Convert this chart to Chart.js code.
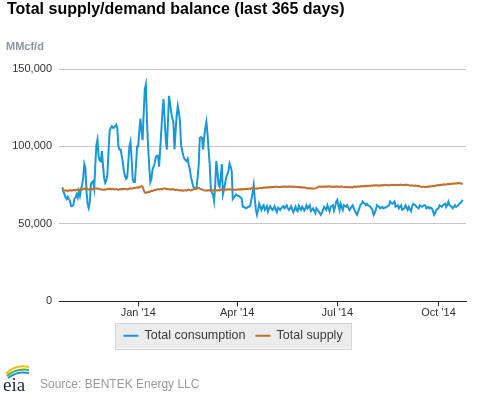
<!DOCTYPE html>
<html>
<head>
<meta charset="utf-8">
<script src="https://cdn.jsdelivr.net/npm/chart.js@4.4.1/dist/chart.umd.min.js"></script>
<style>
  html, body { margin: 0; padding: 0; background: #fff; }
  body { width: 477px; height: 393px; position: relative; overflow: hidden; font-family: Arial, "Liberation Sans", sans-serif; }
  #title { position: absolute; left: 7px; top: 0; font-size: 16px; line-height: 18px; font-weight: bold; color: #000; white-space: nowrap; }
  #unit { position: absolute; left: 6px; top: 40px; font-size: 11px; line-height: 13px; font-weight: bold; color: #8d959e; }
  #wrap { position: absolute; left: 0; top: 0; width: 477px; height: 393px; }
  #source { position: absolute; left: 40px; top: 377px; font-size: 12px; line-height: 14px; color: #999; white-space: nowrap; }
  #logo { position: absolute; left: 2px; top: 361px; }
</style>
</head>
<body>
<div id="wrap"><canvas id="myChart" width="477" height="393"></canvas></div>
<div id="title">Total supply/demand balance (last 365 days)</div>
<div id="unit">MMcf/d</div>
<svg id="logo" width="32" height="32" viewBox="0 0 32 32">
  <path d="M4 13 Q13 3 27 6" stroke="#e9c21d" stroke-width="2" fill="none"/>
  <path d="M5 15 Q14 7 27 9" stroke="#59ad3b" stroke-width="2" fill="none"/>
  <path d="M6 17 Q15 10 27 12" stroke="#1f93cf" stroke-width="2" fill="none"/>
  <text x="1" y="30" font-family="'Liberation Serif', 'DejaVu Serif', serif" font-size="19" fill="#1d2a38">eia</text>
</svg>
<div id="source">Source: BENTEK Energy LLC</div>
<script>
// daily values, thousand MMcf/d, first day = 69 days before Jan 1 '14
var firstDay = -69;
var consumptionK = [
  73.7, 71, 69, 67, 66, 67.5, 66, 64.7, 61.4, 61.5,
  62, 66, 67, 69, 67, 71, 68, 72.4, 75, 79.7,
  88.6, 86, 71, 63, 60.3, 64, 75.6, 77, 77.6, 73,
  88, 101, 104.5, 93.7, 91, 90.5, 97, 88, 79.7, 76.5,
  78, 82, 96, 110, 112, 113, 112, 112, 113, 114,
  112, 100, 98, 98, 94, 90, 84, 81, 79, 80,
  90, 100, 103, 92, 79, 77, 77, 88, 100, 100,
  110, 118, 110, 104, 122, 137, 140, 116, 100, 87.5,
  77, 79, 85, 87, 89, 93, 94, 94, 87, 98,
  110, 122, 130.6, 118, 105, 98, 115, 132.7, 128, 122,
  118, 116, 98, 110, 120, 126, 122, 116, 101, 97,
  94, 92, 91, 90.5, 92, 88, 85, 80, 77, 74,
  73.5, 73, 73, 80, 88, 105.6, 106, 105.6, 98, 106,
  112, 116, 108, 98, 88.6, 73, 70, 69, 64.7, 75,
  90.5, 84, 75.6, 74, 80, 88.6, 69, 72, 76, 80,
  82, 84, 89, 87, 84, 66, 67, 68, 69, 68.5,
  68, 68, 67, 66.6, 61, 61, 60.5, 60, 60.5, 61,
  61, 62, 66, 70, 75, 66, 59, 55.8, 59, 63,
  61, 59, 61, 62, 59, 60, 61.4, 58, 60, 61.4,
  60, 59, 60, 61.4, 59, 57.5, 60.5, 60, 59, 60,
  61, 61.4, 60, 61, 62, 60, 59, 60, 61.4, 59.5,
  57.5, 59, 61, 59, 58.2, 61.6, 60, 59, 61, 60,
  58.6, 60, 62, 60, 61, 62, 58.2, 59, 60, 58.5,
  57, 60, 59, 58.2, 57, 55.8, 57, 59, 61, 60,
  59, 62, 60, 58.2, 61, 61.5, 62, 58.6, 61, 64.4,
  65.5, 62, 59, 63, 61, 59, 62, 61.5, 61, 62,
  60.5, 59, 60, 61, 62, 60, 58.5, 57, 55.8, 58,
  60, 62, 63, 64.4, 63.5, 63, 62, 63, 62, 61.5,
  61, 60, 59, 55.8, 57, 59, 62, 61.5, 61, 60,
  60.5, 61, 60, 60.5, 60.5, 61, 61.5, 62, 64.4, 63.5,
  63, 63.5, 64.4, 61, 61.5, 62, 60, 61, 62, 59,
  59.5, 60, 62, 60.5, 59, 61, 59.5, 58.2, 61, 63,
  62.5, 62, 61, 60.5, 60, 62, 61.5, 61, 61.5, 62,
  62, 60, 60.5, 61, 60, 60.5, 60, 58.2, 55.8, 57,
  59, 59.5, 60, 62, 61.5, 61, 62, 62.5, 63, 61,
  62.5, 64.4, 62, 61.5, 61, 60, 61, 62, 61, 61.5,
  62, 63, 63.5, 64.4, 65.5
];
var supplyK = [
  72, 71.6, 71.4, 71.8, 71.5, 71.2, 71.6, 71.8, 71.4, 71.6,
  71.8, 72, 71.6, 71.9, 72.2, 71.8, 72, 72.4, 72.1, 72.6,
  72.8, 72.5, 72.9, 72.4, 72.1, 72.3, 72.6, 72.2, 72.5, 72.8,
  72.9, 73, 72.6, 72.8, 72.4, 72.1, 72.3, 71.9, 72.2, 72,
  72.3, 72.6, 72.4, 72.8, 72.5, 72.2, 72.6, 72.4, 72.2, 72.5,
  72.3, 72, 72.3, 72.5, 72.2, 72.6, 72.4, 72.7, 72.4, 72.2,
  72.5, 72.8, 73, 72.7, 72.9, 73.2, 73.1, 73.4, 73.6, 73.3,
  73.8, 74.1, 74.4, 73.9, 72, 70.3, 70, 70.3, 70.6, 70.5,
  71, 71.4, 71.2, 71.6, 72, 71.8, 72.2, 72.5, 72.2, 72.4,
  72.6, 72.3, 72.8, 73, 72.7, 72.4, 72.6, 72.3, 72.1, 72.5,
  72.2, 72.4, 72, 71.8, 72.1, 71.9, 71.6, 71.8, 71.5, 71.7,
  71.4, 71.6, 71.8, 71.5, 71.9, 72.1, 71.8, 71.6, 72, 72.3,
  72.6, 72.4, 72.8, 73, 73.3, 72.8, 72.5, 72.2, 71.9, 71.6,
  71.4, 71.7, 71.5, 71.8, 71.6, 71.4, 71.7, 71.5, 71.8, 72,
  71.7, 71.5, 71.8, 71.6, 71.9, 72.1, 71.8, 72, 72.2, 72,
  72.3, 72.1, 72.4, 72.2, 72, 72.3, 72.1, 71.9, 72.2, 72,
  72.3, 72.1, 72.4, 72.2, 72.5, 72.3, 72.6, 72.4, 72.7, 72.5,
  72.8, 72.6, 73, 73.2, 73.4, 72.9, 72.7, 73, 72.8, 73.1,
  73.3, 73, 73.2, 73.5, 73.3, 73.6, 73.4, 73.7, 73.5, 73.8,
  73.6, 73.9, 73.7, 74, 73.8, 74.1, 73.9, 73.7, 74, 73.8,
  74.1, 73.9, 74.2, 74, 73.8, 74.1, 73.9, 74.2, 74, 74.1,
  73.8, 74.1, 73.9, 73.7, 73.9, 73.6, 73.8, 73.5, 73.7, 73.4,
  73.6, 73.3, 73.1, 72.9, 73.1, 72.8, 73, 72.8, 72.9, 72.7,
  72.9, 73.2, 73.6, 74, 74.2, 73.9, 74.1, 73.8, 74, 74.2,
  73.9, 74.1, 74.3, 74, 74.2, 73.9, 74.1, 73.8, 74, 74.2,
  73.9, 74.1, 73.8, 74, 74.2, 73.9, 73.7, 74, 73.8, 73.6,
  73.9, 73.7, 73.5, 73.8, 73.6, 73.9, 74.1, 73.8, 74, 74.2,
  74, 74.3, 74.1, 74.4, 74.2, 74.5, 74.3, 74.6, 74.4, 74.7,
  74.5, 74.8, 74.6, 74.9, 74.7, 75, 74.8, 74.6, 74.9, 74.7,
  75, 74.8, 75.1, 74.9, 75.2, 75, 74.8, 75.1, 74.9, 75.2,
  75, 75.3, 75.1, 74.9, 75.2, 75, 75.3, 75.1, 75.4, 75.2,
  75, 75.3, 75.1, 75.4, 75.2, 75, 74.8, 74.6, 74.9, 74.7,
  74.5, 74.8, 74.6, 74.3, 74.5, 74.2, 74, 73.8, 74.1, 73.9,
  73.7, 74, 73.8, 74.1, 74.3, 74.1, 74.4, 74.6, 74.3, 74.6,
  74.8, 75, 74.8, 75.1, 75.3, 75.1, 75.4, 75.6, 75.3, 75.5,
  75.7, 75.5, 75.8, 75.6, 75.9, 76.1, 75.9, 76.2, 76, 76.3,
  76.1, 76.4, 76.2, 75.9, 75.7
];
var tickDays = [0, 90, 181, 273];
var tickLabels = ["Jan '14", "Apr '14", "Jul '14", "Oct '14"];
var seriesNames = ['Total consumption', 'Total supply'];
var seriesColors = ['#1a98d6', '#c0702c'];

function toPoints(arr) {
    return arr.map(function (v, i) {
        return { x: firstDay + i, y: v * 1000 };
    });
}

// grey box behind the legend
var legendBox = {
    id: 'legendBox',
    beforeDraw: function (chart) {
        var lg = chart.legend;
        if (!lg || !lg.legendHitBoxes || !lg.legendHitBoxes.length) return;
        var hb = lg.legendHitBoxes;
        var first = hb[0], last = hb[hb.length - 1];
        var x0 = first.left - 8, x1 = last.left + last.width + 9;
        var y0 = first.top - 6.5, y1 = first.top + first.height + 6.5;
        var ctx = chart.ctx;
        ctx.save();
        ctx.fillStyle = '#ececec';
        ctx.fillRect(x0, y0, x1 - x0, y1 - y0);
        ctx.strokeStyle = '#d6d6d6';
        ctx.lineWidth = 1;
        ctx.strokeRect(Math.round(x0) + 0.5, Math.round(y0) + 0.5, Math.round(x1 - x0), Math.round(y1 - y0));
        ctx.restore();
    }
};

Chart.defaults.font.family = 'Arial, "Liberation Sans", sans-serif';

new Chart('myChart', {
    type: 'line',
    data: {
        datasets: [{
            label: seriesNames[0],
            data: toPoints(consumptionK),
            borderColor: seriesColors[0],
            backgroundColor: seriesColors[0],
            borderWidth: 2,
            pointRadius: 0,
            tension: 0,
            order: 1
        }, {
            label: seriesNames[1],
            data: toPoints(supplyK),
            borderColor: seriesColors[1],
            backgroundColor: seriesColors[1],
            borderWidth: 2,
            pointRadius: 0,
            tension: 0,
            order: 0
        }]
    },
    options: {
        responsive: false,
        animation: false,
        layout: { padding: { left: 0, right: 11, top: 69, bottom: 41 } },
        plugins: {
            tooltip: { enabled: false },
            title: { display: false },
            legend: {
                position: 'bottom',
                labels: {
                    usePointStyle: true,
                    pointStyle: 'line',
                    pointStyleWidth: 15,
                    boxHeight: 12,
                    padding: 10,
                    color: '#3a3a3a',
                    font: { size: 12.5 },
                    sort: function (a, b) { return a.datasetIndex - b.datasetIndex; }
                }
            }
        },
        scales: {
            x: {
                type: 'linear',
                min: -72,
                max: 298,
                afterBuildTicks: function (scale) {
                    scale.ticks = tickDays.map(function (d) { return { value: d }; });
                },
                ticks: {
                    autoSkip: false,
                    maxRotation: 0,
                    padding: 0,
                    color: '#333',
                    font: { size: 11 },
                    callback: function (value) {
                        var k = tickDays.indexOf(value);
                        return k >= 0 ? tickLabels[k] : '';
                    }
                },
                grid: { drawOnChartArea: false, drawTicks: true, tickLength: 5, color: '#333' },
                border: { display: true, color: '#222', width: 1 }
            },
            y: {
                min: 0,
                max: 150000,
                afterFit: function (scale) { scale.width = 59; },
                ticks: {
                    stepSize: 50000,
                    padding: 7,
                    color: '#333',
                    font: { size: 11 },
                    callback: function (value) { return value.toLocaleString('en-US'); }
                },
                grid: {
                    drawTicks: false,
                    color: function (c) { return c.tick && c.tick.value === 0 ? 'rgba(0,0,0,0)' : '#c6c6c6'; }
                },
                border: { display: false }
            }
        }
    },
    plugins: [legendBox]
});
</script>
</body>
</html>
